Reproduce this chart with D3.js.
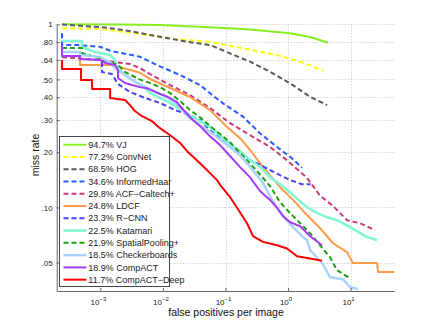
<!DOCTYPE html>
<html>
<head>
<meta charset="utf-8">
<script src="https://cdn.jsdelivr.net/npm/d3@7"></script>
<style>
  body { margin: 0; background: #fff; }
  svg { display: block; font-family: "Liberation Sans", Arial, sans-serif; }
</style>
</head>
<body>
<svg id="chart"></svg>
<script>
const width = 436, height = 327;

// method names with log-average miss rate, legend order
const methods = ["VJ", "ConvNet", "HOG", "InformedHaar", "ACF\u2212Caltech+", "LDCF",
                 "R\u2212CNN", "Katamari", "SpatialPooling+", "Checkerboards", "CompACT", "CompACT\u2212Deep"];
const scores = ["94.7%", "77.2%", "68.5%", "34.6%", "29.8%", "24.8%",
                "23.3%", "22.5%", "21.9%", "18.5%", "18.9%", "11.7%"];

// curves: [false positives per image, miss rate]
const vj = [[2.43e-4,1.0],[2.06e-3,0.997],[8.97e-3,0.991],[0.0566,0.963],[0.247,0.937],[1.08,0.893],[2.25,0.852],[4.4,0.793]];
const convnet = [[2.43e-4,0.951],[9.86e-4,0.943],[4.3e-3,0.885],[0.0156,0.831],[0.0566,0.803],[0.191,0.739],[0.667,0.68],[1.56,0.625],[3.7,0.558]];
const hog = [[2.43e-4,0.997],[1.19e-3,0.961],[2.7e-3,0.923],[8.97e-3,0.855],[0.0243,0.803],[0.0566,0.771],[0.118,0.694],[0.247,0.625],[0.515,0.551],[1.08,0.476],[2.25,0.402],[4.2,0.362]];
const informedHaar = [[2.43e-4,0.893],[2.43e-4,0.771],[4.23e-4,0.771],[9.86e-4,0.754],[1.43e-3,0.717],[4.3e-3,0.665],[8.04e-3,0.599],[0.0188,0.528],[0.0392,0.466],[0.0566,0.42],[0.0914,0.37],[0.191,0.313],[0.356,0.254],[0.667,0.214],[1.08,0.189],[1.67,0.165]];
const acf = [[2.43e-4,0.663],[9.86e-4,0.638],[2.97e-3,0.607],[4.3e-3,0.577],[6.21e-3,0.535],[0.013,0.466],[0.0271,0.411],[0.0566,0.349],[0.118,0.289],[0.247,0.248],[0.515,0.214],[0.963,0.181],[2.01,0.145],[3.25,0.116],[5.24,0.102],[8.77,0.0852],[14.2,0.082],[24.6,0.0752]];
const ldcf = [[4.72e-4,0.638],[4.72e-4,0.599],[1.43e-3,0.599],[2.06e-3,0.584],[4.3e-3,0.544],[6.21e-3,0.503],[0.013,0.449],[0.0271,0.401],[0.0566,0.34],[0.106,0.275],[0.171,0.239],[0.247,0.206],[0.398,0.166],[0.745,0.129],[1.2,0.11],[2.01,0.0909],[3.25,0.0771],[5.24,0.0638],[8.77,0.057],[10.9,0.0497],[26.5,0.0497],[27.5,0.0445],[50,0.0445]];
const rcnn = [[1.06e-3,0.622],[1.06e-3,0.549],[1.53e-3,0.535],[1.91e-3,0.472],[2.97e-3,0.427],[5.16e-3,0.396],[8.97e-3,0.372],[0.0156,0.34],[0.0271,0.319],[0.0392,0.3],[0.0566,0.264],[0.0818,0.239],[0.118,0.214],[0.171,0.198],[0.247,0.181],[0.356,0.171],[0.515,0.16],[0.745,0.15],[1.08,0.141],[1.67,0.134],[2.3,0.134]];
const katamari = [[2.43e-4,0.81],[5.07e-4,0.81],[5.07e-4,0.751],[8.2e-4,0.706],[1.43e-3,0.68],[1.71e-3,0.638],[1.84e-3,0.577],[2.47e-3,0.528],[3.57e-3,0.484],[5.16e-3,0.449],[6.21e-3,0.421],[0.013,0.372],[0.0271,0.319],[0.0566,0.275],[0.0818,0.248],[0.118,0.222],[0.171,0.203],[0.247,0.181],[0.356,0.167],[0.515,0.146],[0.745,0.134],[1.08,0.121],[1.56,0.108],[2.01,0.1004],[2.91,0.0931],[4.2,0.0885],[6.08,0.0852],[8.77,0.0799],[12.7,0.0742],[18.3,0.0689],[26.5,0.0664]];
const spatialPooling = [[2.43e-4,0.742],[5.07e-4,0.742],[5.07e-4,0.697],[7.35e-4,0.671],[1.19e-3,0.638],[1.91e-3,0.599],[2.47e-3,0.549],[4.3e-3,0.499],[6.21e-3,0.478],[8.97e-3,0.454],[0.013,0.421],[0.0188,0.381],[0.0271,0.34],[0.0392,0.311],[0.0566,0.278],[0.0818,0.252],[0.118,0.227],[0.191,0.191],[0.308,0.16],[0.515,0.131],[0.745,0.107],[1.08,0.0931],[1.56,0.082],[2.25,0.0724],[3.25,0.0622],[4.69,0.0535],[6.08,0.0454],[9.8,0.0411]];
const checkerboards = [[2.43e-4,0.733],[2.43e-4,0.706],[4.72e-4,0.706],[4.72e-4,0.68],[9.86e-4,0.663],[1.43e-3,0.622],[1.71e-3,0.577],[2.47e-3,0.528],[3.57e-3,0.486],[5.16e-3,0.456],[7.46e-3,0.428],[0.0108,0.406],[0.0156,0.372],[0.0271,0.307],[0.0566,0.259],[0.118,0.214],[0.171,0.193],[0.247,0.167],[0.398,0.136],[0.555,0.11],[0.667,0.0996],[1.08,0.081],[1.74,0.0688],[2.01,0.0664],[2.25,0.0586],[3.62,0.049],[4.69,0.0416],[7.57,0.0406],[9.8,0.0367],[13.1,0.0359]];
const compact = [[2.43e-4,0.771],[2.43e-4,0.671],[4.72e-4,0.671],[4.72e-4,0.646],[9.86e-4,0.638],[1.19e-3,0.615],[1.71e-3,0.599],[1.91e-3,0.563],[1.91e-3,0.509],[2.47e-3,0.478],[3.2e-3,0.466],[4.3e-3,0.454],[5.77e-3,0.446],[8.34e-3,0.421],[0.01205,0.401],[0.0168,0.376],[0.0188,0.358],[0.0271,0.311],[0.0392,0.278],[0.0566,0.245],[0.0818,0.219],[0.118,0.191],[0.171,0.166],[0.247,0.146],[0.356,0.123],[0.515,0.11],[0.667,0.0996],[0.832,0.0896],[1.08,0.0831],[1.56,0.079],[2.25,0.0697],[3.5,0.0622]];
const compactDeep = [[2.43e-4,0.638],[2.43e-4,0.57],[4.9e-4,0.57],[4.9e-4,0.496],[7.35e-4,0.496],[7.35e-4,0.444],[1.43e-3,0.444],[1.43e-3,0.396],[2.47e-3,0.386],[2.97e-3,0.362],[3.57e-3,0.336],[4.62e-3,0.315],[6.68e-3,0.296],[8.97e-3,0.271],[0.013,0.248],[0.0188,0.225],[0.0243,0.203],[0.0303,0.189],[0.0507,0.16],[0.0733,0.141],[0.0818,0.133],[0.118,0.114],[0.153,0.0996],[0.221,0.082],[0.275,0.0697],[0.398,0.0649],[0.667,0.0622],[0.963,0.0597],[1.39,0.0542],[2.25,0.0526],[3.5,0.0512]];

const curves = [vj, convnet, hog, informedHaar, acf, ldcf, rcnn, katamari, spatialPooling, checkerboards, compact, compactDeep];

const xTicks = [1e-3, 1e-2, 1e-1, 1, 10];
const xExps = ["\u22123", "\u22122", "\u22121", "0", "1"];
const yTicks = [1, 0.8, 0.64, 0.5, 0.4, 0.3, 0.2, 0.1, 0.05];
const yLabels = ["1", ".80", ".64", ".50", ".40", ".30", ".20", ".10", ".05"];

// line styles per method
const colors = ["#88ee22", "#ffff00", "#5a5a5a", "#2a5cff", "#c83c7c", "#ff9a45",
                "#4545ff", "#7ff8d4", "#1fa010", "#a9d2ff", "#a53cf5", "#ff0000"];
const dashed = [false, true, true, true, true, false, true, false, true, false, false, false];
const widths = [2, 2, 2, 2, 2, 2, 2, 2.5, 2, 2.5, 2, 2];

const plotLeft = 56.7, plotRight = 394.3, plotTop = 24.3, plotBottom = 291;

const svg = d3.select("#chart").attr("width", width).attr("height", height);

const x = d3.scaleLog().domain([2e-4, 50]).range([plotLeft, plotRight]);
const y = d3.scaleLog().domain([0.035, 1]).range([plotBottom, plotTop]);

// grid
const grid = svg.append("g").attr("stroke", "#c4c4c4").attr("stroke-width", 1).attr("stroke-dasharray", "1,2");
grid.selectAll(".gx").data(xTicks).enter().append("line")
    .attr("x1", d => Math.round(x(d)) + 0.5).attr("x2", d => Math.round(x(d)) + 0.5)
    .attr("y1", plotTop).attr("y2", plotBottom);
grid.selectAll(".gy").data(yTicks).enter().append("line")
    .attr("x1", plotLeft).attr("x2", plotRight)
    .attr("y1", d => Math.round(y(d)) + 0.5).attr("y2", d => Math.round(y(d)) + 0.5);

// curves
svg.append("defs").append("clipPath").attr("id", "plotclip")
    .append("rect").attr("x", plotLeft).attr("y", plotTop - 2)
    .attr("width", plotRight - plotLeft).attr("height", plotBottom - plotTop + 2);

const line = d3.line().x(d => x(d[0])).y(d => y(d[1]));

svg.append("g").attr("clip-path", "url(#plotclip)")
    .selectAll("path").data(curves).enter().append("path")
    .attr("d", line)
    .attr("fill", "none")
    .attr("stroke", (d, i) => colors[i])
    .attr("stroke-width", (d, i) => widths[i])
    .attr("stroke-dasharray", (d, i) => dashed[i] ? "5,3" : null)
    .attr("stroke-linejoin", "round");

// axes
const axisColor = "#666";
const yAxis = svg.append("g").attr("transform", `translate(${plotLeft},0)`)
    .call(d3.axisLeft(y).tickValues(yTicks).tickFormat((d, i) => yLabels[i]).tickSizeInner(-3).tickSizeOuter(0).tickPadding(4));
const xAxis = svg.append("g").attr("transform", `translate(0,${plotBottom})`)
    .call(d3.axisBottom(x).tickValues(xTicks).tickFormat("").tickSizeInner(-3).tickSizeOuter(0));
[yAxis, xAxis].forEach(a => {
    a.select(".domain").attr("stroke", axisColor);
    a.selectAll(".tick line").attr("stroke", axisColor);
});
yAxis.selectAll("text").attr("fill", "#222").style("font-size", "8px")
    .style("font-family", "'Liberation Sans', Arial, sans-serif");

// x tick labels with exponents
const xl = svg.append("g").attr("fill", "#222");
xTicks.forEach((t, i) => {
    const txt = xl.append("text").attr("x", x(t) - 2).attr("y", 305).attr("text-anchor", "middle");
    txt.append("tspan").style("font-size", "8px").text("10");
    txt.append("tspan").attr("dy", -4).style("font-size", "6px").text(xExps[i]);
});

// axis titles
svg.append("text").attr("x", 226).attr("y", 316).attr("text-anchor", "middle")
    .style("font-size", "10.5px").attr("fill", "#111").text("false positives per image");
svg.append("text").attr("transform", "translate(38.5,155) rotate(-90)").attr("text-anchor", "middle")
    .style("font-size", "10.5px").attr("fill", "#111").text("miss rate");

// legend
const legend = svg.append("g");
legend.append("rect").attr("x", 59.5).attr("y", 136.5).attr("width", 110).attr("height", 150)
    .attr("fill", "#fff").attr("stroke", "#444").attr("stroke-width", 1);
const entry = legend.selectAll(".entry").data(methods).enter().append("g")
    .attr("transform", (d, i) => `translate(0,${144.7 + i * 12.27})`);
entry.append("line").attr("x1", 63.5).attr("x2", 86.5)
    .attr("stroke", (d, i) => colors[i])
    .attr("stroke-width", (d, i) => widths[i])
    .attr("stroke-dasharray", (d, i) => dashed[i] ? "5,3" : null);
entry.append("text").attr("x", 88.3).attr("dy", "0.35em")
    .style("font-size", "9px").attr("fill", "#222")
    .text((d, i) => `${scores[i]} ${d}`);
</script>
</body>
</html>
